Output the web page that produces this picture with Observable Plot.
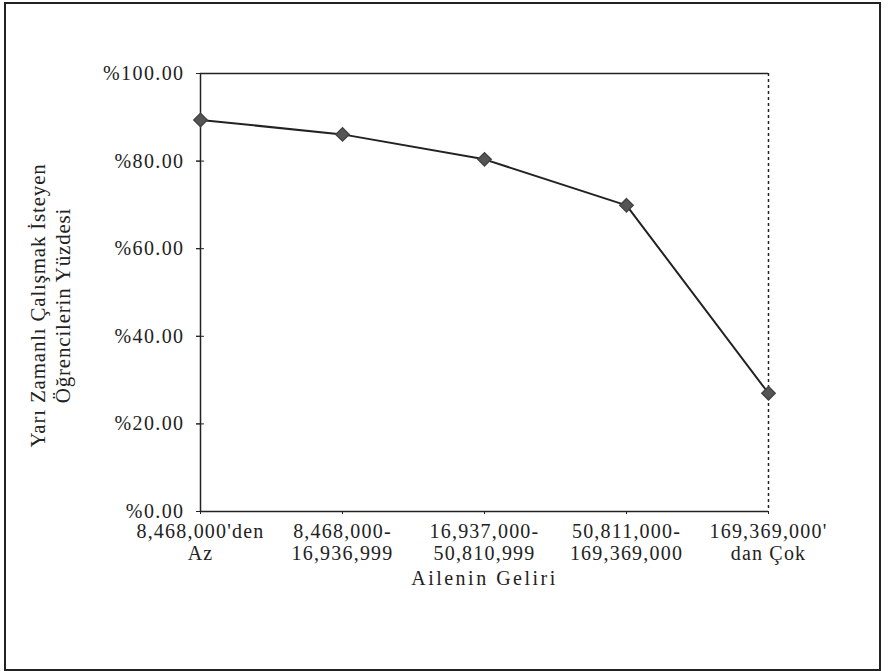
<!DOCTYPE html>
<html>
<head>
<meta charset="utf-8">
<script src="https://cdn.jsdelivr.net/npm/d3@7"></script>
<script src="https://cdn.jsdelivr.net/npm/@observablehq/plot@0.6"></script>
<style>
  html, body { margin: 0; padding: 0; background: #fff; }
  #wrap { position: relative; width: 888px; height: 671px; }
  #border { position: absolute; left: 4px; top: 2px; width: 873px; height: 665px; border: 2px solid #222; pointer-events: none; }
</style>
</head>
<body>
<div id="wrap"><div id="border"></div></div>
<script>
const categories = [
  "8,468,000'den\nAz",
  "8,468,000-\n16,936,999",
  "16,937,000-\n50,810,999",
  "50,811,000-\n169,369,000",
  "169,369,000'\ndan Çok"
];
const values = [89.4, 86.1, 80.4, 69.9, 27.0];
const yTicks = [0, 20, 40, 60, 80, 100];
const xTitle = "Ailenin Geliri";
const yTitle = "Yarı Zamanlı Çalışmak İsteyen\nÖğrencilerin Yüzdesi";

const data = categories.map((c, i) => ({cat: c, val: values[i]}));
const ink = "#222";
const serif = "'Liberation Serif', 'DejaVu Serif', serif";

const chart = Plot.plot({
  width: 888,
  height: 671,
  marginLeft: 200,
  marginRight: 120,
  marginTop: 73,
  marginBottom: 160,
  style: {fontFamily: serif, color: ink, background: "transparent"},
  x: {type: "point", domain: categories, padding: 0},
  y: {domain: [0, 100]},
  marks: [
    Plot.ruleY([100], {stroke: ink, strokeWidth: 1.5}),
    Plot.ruleY([0], {stroke: ink, strokeWidth: 1.5}),
    Plot.ruleX([categories[0]], {stroke: ink, strokeWidth: 1.5}),
    Plot.ruleX([categories[categories.length - 1]], {stroke: ink, strokeWidth: 1.5, strokeDasharray: "3,3"}),
    Plot.axisY({ticks: yTicks, tickFormat: d => "%" + d.toFixed(2), tickSize: 4, tickPadding: 12, fontSize: 20, label: null, stroke: ink}),
    Plot.axisY({ticks: yTicks, tickFormat: () => "", tickSize: 8, dx: 4, label: null, stroke: ink}),
    Plot.axisX({tickSize: 3, tickPadding: 8, fontSize: 20, label: null, lineHeight: 1.1, stroke: ink}),
    Plot.text([xTitle], {frameAnchor: "bottom", dy: 73, fontSize: 20, fill: ink}),
    Plot.text([yTitle], {frameAnchor: "left", textAnchor: "middle", dx: -151, dy: 13, rotate: -90, fontSize: 21, lineHeight: 1.2, fill: ink}),
    Plot.line(data, {x: "cat", y: "val", stroke: ink, strokeWidth: 2}),
    Plot.dot(data, {x: "cat", y: "val", symbol: "diamond2", r: 6, fill: "#555", stroke: "#444"})
  ]
});
const svg = d3.select(chart);
svg.selectAll('g[aria-label="y-axis tick label"]').style("letter-spacing", "1.4px");
svg.selectAll('g[aria-label="x-axis tick label"]').style("letter-spacing", "1.2px");
const texts = svg.selectAll('g[aria-label="text"]');
texts.filter((d, i) => i === 0).style("letter-spacing", "2.5px");
texts.filter((d, i) => i === 1).style("letter-spacing", "0.8px");
document.getElementById("wrap").prepend(chart);
</script>
</body>
</html>
